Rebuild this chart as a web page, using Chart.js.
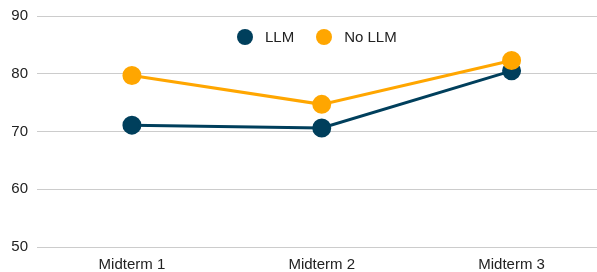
<!DOCTYPE html>
<html>
<head>
<meta charset="utf-8">
<script src="https://cdn.jsdelivr.net/npm/chart.js@4"></script>
<style>
  html, body { margin: 0; padding: 0; background: #fff; }
  #wrap { width: 597px; height: 272px; position: relative; }
  #legend {
    position: absolute; top: 28px; left: 237px;
    display: flex; align-items: center;
    font: 15px "Liberation Sans", Arial, sans-serif; color: #222;
  }
  #legend .item { display: flex; align-items: center; margin-right: 22px; }
  #legend .dot { width: 16px; height: 16px; border-radius: 50%; margin-right: 12px; }
</style>
</head>
<body>
<div id="wrap">
  <canvas id="chart"></canvas>
  <div id="legend"></div>
</div>
<script>
const categories = ['Midterm 1', 'Midterm 2', 'Midterm 3'];
const llm = [71.1, 70.6, 80.5];
const noLlm = [79.7, 74.7, 82.3];
const yTicks = [50, 60, 70, 80, 90];

const NAVY = '#003f5c';
const ORANGE = '#ffa600';
const FONT = { family: 'Liberation Sans, Arial, sans-serif', size: 15 };

const toPoints = arr => arr.map((v, i) => ({ x: i, y: v }));

// tailles des axes fixees a la main, sans marges automatiques
const fixAxis = size => axis => {
    axis.paddingLeft = 0;
    axis.paddingRight = 0;
    axis.paddingTop = 0;
    axis.paddingBottom = 0;
    if (axis.isHorizontal()) axis.height = size;
    else axis.width = size;
};

const chart = new Chart(document.getElementById('chart'), {
    type: 'line',
    data: {
        datasets: [
            {
                label: 'LLM',
                data: toPoints(llm),
                borderColor: NAVY,
                backgroundColor: NAVY,
                borderWidth: 3,
                pointRadius: 8,
                pointHoverRadius: 8,
                order: 1
            },
            {
                label: 'No LLM',
                data: toPoints(noLlm),
                borderColor: ORANGE,
                backgroundColor: ORANGE,
                borderWidth: 3,
                pointRadius: 8,
                pointHoverRadius: 8,
                order: 0
            }
        ]
    },
    options: {
        responsive: true,
        maintainAspectRatio: false,
        animation: false,
        layout: { autoPadding: false, padding: { left: 10, top: 16, right: 0, bottom: 0 } },
        plugins: {
            tooltip: { enabled: false },
            legend: { display: false }
        },
        scales: {
            x: {
                type: 'linear',
                min: -0.5,
                max: 2.45,
                afterBuildTicks: axis => {
                    axis.ticks = categories.map((c, i) => ({ value: i }));
                },
                afterFit: fixAxis(25),
                ticks: {
                    padding: 1,
                    color: '#222',
                    font: FONT,
                    maxRotation: 0,
                    callback: val => categories[val]
                },
                grid: { display: false },
                border: { display: false }
            },
            y: {
                min: 50,
                max: 90,
                afterBuildTicks: axis => {
                    axis.ticks = yTicks.map(v => ({ value: v }));
                },
                afterFit: fixAxis(27),
                ticks: {
                    padding: 9,
                    color: '#222',
                    font: FONT
                },
                grid: { color: '#cccccc', lineWidth: 1, drawTicks: false },
                border: { display: false }
            }
        }
    }
});

// legende HTML posee dans la zone du graphique
const legend = document.getElementById('legend');
chart.data.datasets.forEach(ds => {
    const item = document.createElement('div');
    item.className = 'item';
    item.innerHTML = `<span class="dot" style="background:${ds.borderColor}"></span><span>${ds.label}</span>`;
    legend.appendChild(item);
});
</script>
</body>
</html>
